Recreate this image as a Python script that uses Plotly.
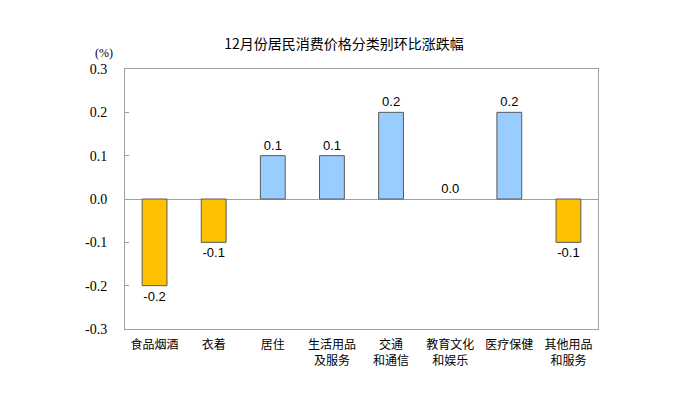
import plotly.graph_objects as go

categories = ["食品烟酒", "衣着", "居住", "生活用品<br>及服务", "交通<br>和通信", "教育文化<br>和娱乐", "医疗保健", "其他用品<br>和服务"]
values = [-0.2, -0.1, 0.1, 0.1, 0.2, 0.0, 0.2, -0.1]
tick_vals = [-0.3, -0.2, -0.1, 0.0, 0.1, 0.2, 0.3]
tick_text = ["-0.3", "-0.2", "-0.1", "0.0", "0.1", "0.2", "0.3"]

colors = ["#FFC000" if v < 0 else "#99CCFF" for v in values]
line_widths = [0 if v == 0 else 1 for v in values]

serif = "Times New Roman"

fig = go.Figure(go.Bar(
    x=categories, y=values,
    marker=dict(color=colors, line=dict(color="#5A5A5A", width=line_widths)),
    width=0.42,
    text=[f"{v:.1f}" for v in values],
    textposition="outside",
    textfont=dict(family="Liberation Sans, Arial", size=13, color="black"),
    cliponaxis=False,
))

fig.update_layout(
    width=672, height=390,
    margin=dict(l=117, r=82, t=61, b=69),
    plot_bgcolor="white", paper_bgcolor="white",
    showlegend=False,
    title=dict(text="12月份居民消费价格分类别环比涨跌幅", x=0.5, xanchor="center", y=0.908, yanchor="middle",
               font=dict(family="Noto Sans CJK SC", size=14, color="black")),
    font=dict(family="Noto Sans CJK SC", size=12, color="black"),
    annotations=[dict(text="(%)", x=-0.045, y=1.06, xref="paper", yref="paper", showarrow=False,
                      font=dict(family=serif, size=12, color="black"),
                      xanchor="center", yanchor="middle")],
)
fig.update_xaxes(showline=True, linecolor="#A0A0A0", linewidth=1, mirror=True, ticks="",
                 ticklabelstandoff=5,
                 tickfont=dict(family="Noto Sans CJK SC", size=12, color="black"))
fig.update_yaxes(range=[-0.3, 0.3], tickvals=tick_vals, ticktext=tick_text,
                 showline=True, linecolor="#A0A0A0", linewidth=1, mirror=True,
                 ticks="inside", ticklen=4, tickcolor="#A0A0A0",
                 showgrid=False, zeroline=True, zerolinecolor="#A0A0A0", zerolinewidth=1,
                 tickfont=dict(family=serif, size=14, color="black"),
                 ticklabelstandoff=14)
fig.write_html("out.html")
